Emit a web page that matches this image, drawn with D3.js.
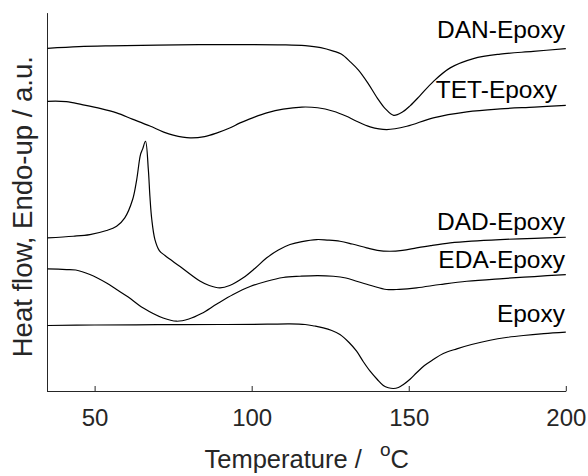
<!DOCTYPE html>
<html>
<head>
<meta charset="utf-8">
<script src="https://cdn.jsdelivr.net/npm/d3@7"></script>
<style>
  html, body { margin: 0; padding: 0; background: #fff; }
  svg { display: block; font-family: "Liberation Sans", Arial, Helvetica, sans-serif; }
</style>
</head>
<body>
<svg id="chart" width="588" height="476"></svg>
<script>
// ---- data (temperature °C, heat flow a.u.) ----
const seriesNames = ["DAN-Epoxy", "TET-Epoxy", "DAD-Epoxy", "EDA-Epoxy", "Epoxy"];

const danEpoxy = [[35,34.33],[45,34.5],[55,34.58],[70,34.65],[90,34.7],[110,34.68],[117,34.6],[122,34.4],[126,34.05],[128.5,33.75],[131.5,32.95],[134,32.15],[137,30.85],[140,29.35],[142.5,28.3],[145.2,27.62],[148,27.95],[150.5,28.6],[153.6,29.6],[157.8,31.0],[163.2,32.37],[170.6,33.3],[179.1,33.75],[189.6,34.02],[200,34.3]];

const tetEpoxy = [[35,29.03],[41,29.0],[46,28.7],[52,28.3],[57,27.87],[62,27.25],[67.6,26.55],[72,25.95],[75,25.65],[80.4,25.37],[85,25.5],[89,25.87],[93,26.35],[96.3,26.87],[100.5,27.4],[104.8,27.87],[110,28.25],[116,28.45],[121,28.38],[126,28.03],[130,27.55],[133.4,27.03],[137.7,26.47],[143,26.2],[149.4,26.53],[157.8,27.37],[168.5,27.97],[179.1,28.27],[190,28.45],[200,28.63]];

const dadEpoxy = [[35,15.37],[43.2,15.53],[48.5,15.7],[53.8,16.1],[57,16.53],[59.6,17.37],[62.1,19.2],[63.4,21.2],[64.6,23.7],[65.3,24.27],[66.2,25.03],[67.1,22.2],[67.6,19.53],[68.2,17.2],[69.2,15.2],[70.6,14.1],[72.4,13.6],[77.2,12.5],[83.5,11.05],[86.5,10.6],[89.9,10.37],[93,10.6],[97.3,11.37],[101,12.3],[104.8,13.37],[108.5,14.15],[112.2,14.7],[116,15.0],[120.7,15.2],[124,15.15],[128.1,15.03],[132,14.75],[136.6,14.37],[140,14.12],[144,14.03],[148,14.12],[152.5,14.37],[157,14.6],[163.2,14.87],[170,15.05],[179.1,15.2],[190,15.32],[200,15.43]];

const edaEpoxy = [[35,12.27],[41.1,12.2],[44,12.15],[48.5,11.7],[53.8,10.85],[57,10.2],[60.7,9.45],[65.5,8.35],[71.8,7.35],[76.1,7.03],[80,7.25],[84,7.8],[88.9,8.75],[94.1,9.7],[99.5,10.5],[104.8,11.03],[110,11.4],[115.4,11.53],[121,11.6],[126,11.53],[130,11.35],[133.4,11.03],[138,10.6],[143,10.2],[147,10.22],[152.5,10.37],[160,10.7],[168.5,11.03],[180,11.3],[190,11.5],[200,11.7]];

const epoxy = [[35,6.6],[50,6.65],[70,6.68],[90,6.7],[105,6.73],[112.2,6.76],[117,6.7],[120,6.55],[122.8,6.37],[125.5,6.1],[128.1,5.7],[131,4.9],[133.4,4.03],[135.5,3.0],[137.7,2.03],[140,1.2],[141.9,0.6],[143.5,0.38],[145.1,0.3],[146.7,0.4],[148.3,0.7],[150.5,1.25],[152.5,1.87],[155,2.6],[157.8,3.2],[161,3.8],[165.3,4.27],[170,4.7],[175.9,5.13],[181,5.4],[186.5,5.6],[193,5.78],[200,5.93]];

const xTicks = [50, 100, 150, 200];
const xDomain = [35, 200];
const yDomain = [0, 37.9];

// ---- layout ----
const allSeries = [danEpoxy, tetEpoxy, dadEpoxy, edaEpoxy, epoxy];
const labelLayout = [
  { x: 565, y: 37.7 },
  { x: 557, y: 97.7 },
  { x: 565, y: 230 },
  { x: 565, y: 267.7 },
  { x: 565, y: 322 }
];

const svg = d3.select("#chart");
const x = d3.scaleLinear().domain(xDomain).range([47.5, 565.8]);
const y = d3.scaleLinear().domain(yDomain).range([391.5, 12.6]);

const axisColor = "#262626";

// x axis
const gx = svg.append("g").attr("transform", "translate(0,391)")
  .call(d3.axisBottom(x).tickValues(xTicks).tickSizeInner(-5).tickSizeOuter(0).tickPadding(18).tickFormat(d3.format("d")));
gx.select(".domain").attr("stroke", axisColor);
gx.selectAll(".tick line").attr("stroke", axisColor);
gx.selectAll(".tick text").attr("fill", axisColor).attr("font-size", 24)
  .attr("font-family", "'Liberation Sans', Arial, sans-serif");

// y axis (no ticks)
const gy = svg.append("g").attr("transform", "translate(47,0)")
  .call(d3.axisLeft(y).tickValues([]).tickSizeOuter(0));
gy.select(".domain").attr("stroke", axisColor);

// curves
const line = d3.line().x(d => x(d[0])).y(d => y(d[1])).curve(d3.curveCatmullRom.alpha(0.5));
svg.append("g").selectAll("path").data(allSeries).join("path")
  .attr("d", line)
  .attr("fill", "none")
  .attr("stroke", "#000")
  .attr("stroke-width", 1.2);

// series labels
svg.append("g").selectAll("text").data(seriesNames).join("text")
  .attr("x", (d, i) => labelLayout[i].x)
  .attr("y", (d, i) => labelLayout[i].y)
  .attr("text-anchor", "end")
  .attr("font-size", 24.5)
  .attr("fill", "#000")
  .text(d => d);

// x axis title
const xt = svg.append("text")
  .attr("x", 306.7).attr("y", 468.3)
  .attr("text-anchor", "middle")
  .attr("font-size", 25.5)
  .attr("fill", axisColor);
xt.append("tspan").text("Temperature / ");
xt.append("tspan").attr("dx", 11).attr("dy", -12).attr("font-size", 19).text("o");
xt.append("tspan").attr("dy", 12).text("C");

// y axis title
svg.append("text")
  .attr("transform", "translate(31.5,206.7) rotate(-90)")
  .attr("text-anchor", "middle")
  .attr("font-size", 27.5)
  .attr("fill", axisColor)
  .text("Heat flow, Endo-up / a.u.");
</script>
</body>
</html>
